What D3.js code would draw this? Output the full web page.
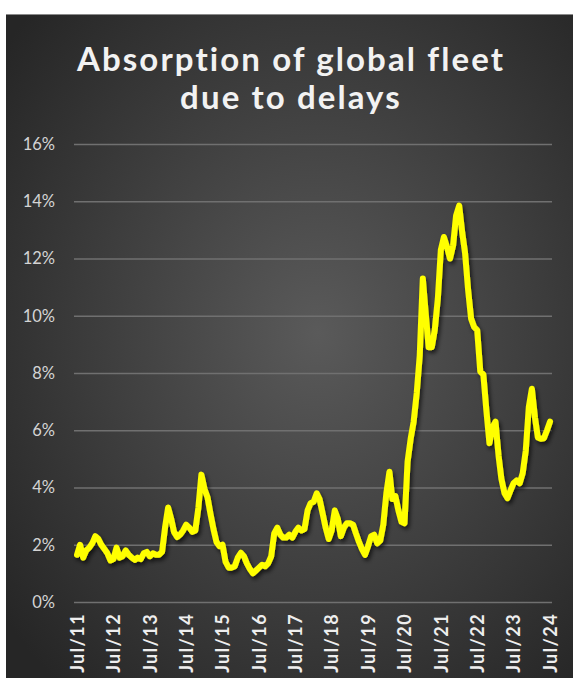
<!DOCTYPE html>
<html>
<head>
<meta charset="utf-8">
<script src="https://cdn.jsdelivr.net/npm/d3@7"></script>
<style>
  html, body { margin: 0; padding: 0; background: #ffffff; }
  svg { display: block; }
</style>
</head>
<body>
<div id="chart"></div>
<script>
// Share of the global container fleet absorbed by delays, monthly, Jul 2011 – Jul 2024
const startMonth = new Date(2011, 6, 1);
const absorption = [
  1.65, 2.0, 1.55, 1.8, 1.9, 2.05, 2.3, 2.2, 2.0, 1.85, 1.7, 1.45,
  1.5, 1.9, 1.55, 1.6, 1.8, 1.65, 1.55, 1.47, 1.55, 1.5, 1.7, 1.75,
  1.6, 1.7, 1.65, 1.65, 1.75, 2.6, 3.3, 2.9, 2.45, 2.27, 2.35, 2.5,
  2.7, 2.6, 2.45, 2.5, 3.3, 4.45, 3.95, 3.65, 3.1, 2.55, 2.1, 1.95,
  2.0, 1.4, 1.2, 1.2, 1.25, 1.55, 1.72, 1.6, 1.35, 1.15, 1.0, 1.1,
  1.2, 1.3, 1.25, 1.35, 1.6, 2.4, 2.6, 2.35, 2.25, 2.25, 2.35, 2.25,
  2.45, 2.6, 2.5, 2.55, 3.2, 3.45, 3.5, 3.8, 3.6, 3.1, 2.6, 2.2,
  2.5, 3.2, 2.9, 2.3, 2.6, 2.75, 2.75, 2.7, 2.4, 2.1, 1.85, 1.65,
  1.95, 2.3, 2.35, 2.05, 2.15, 2.7, 3.8, 4.55, 3.6, 3.7, 3.2, 2.8,
  2.75, 4.9, 5.7, 6.3, 7.3, 8.6, 11.3, 10.0, 8.9, 8.9, 9.5, 10.6,
  12.3, 12.75, 12.4, 12.0, 12.45, 13.5, 13.85, 12.9, 12.2, 10.9, 9.9, 9.6,
  9.5, 8.05, 7.95, 6.7, 5.55, 6.1, 6.3, 5.1, 4.3, 3.8, 3.63, 3.9,
  4.15, 4.25, 4.15, 4.5, 5.3, 6.8, 7.45, 6.45, 5.75, 5.7, 5.72, 6.0,
  6.3
];
const yTicks = [0, 2, 4, 6, 8, 10, 12, 14, 16];
const titleLines = ["Absorption of global fleet", "due to delays"];

const months = absorption.map((v, i) => d3.timeMonth.offset(startMonth, i));
const series = absorption.map((v, i) => ({ date: months[i], value: v }));
const xTicks = months.filter((d, i) => i % 12 === 0);

const W = 573, H = 678;
const panel = { x: 6, y: 14 };
const plot = { left: 74, right: 552, top: 144, bottom: 602 };
const font = "Lato, 'Open Sans', sans-serif";

const svg = d3.select("#chart").append("svg")
  .attr("width", W).attr("height", H);

const defs = svg.append("defs");
const grad = defs.append("radialGradient")
  .attr("id", "bg").attr("cx", "55%").attr("cy", "48%").attr("r", "70%");
grad.append("stop").attr("offset", "0%").attr("stop-color", "#5a5a5a");
grad.append("stop").attr("offset", "100%").attr("stop-color", "#262626");

const shadow = defs.append("filter").attr("id", "shadow")
  .attr("x", "-10%").attr("y", "-10%").attr("width", "120%").attr("height", "120%");
shadow.append("feDropShadow")
  .attr("dx", 2).attr("dy", 3).attr("stdDeviation", 2)
  .attr("flood-color", "#000").attr("flood-opacity", 0.65);

// background panel
svg.append("rect")
  .attr("x", panel.x).attr("y", panel.y)
  .attr("width", W - panel.x).attr("height", H - panel.y)
  .attr("fill", "url(#bg)");
svg.append("line")
  .attr("x1", panel.x).attr("x2", W).attr("y1", panel.y + 0.5).attr("y2", panel.y + 0.5)
  .attr("stroke", "#8a8a8a").attr("stroke-width", 1);

const x = d3.scaleTime()
  .domain([months[0], months[months.length - 1]])
  .range([77, 550]);
const y = d3.scaleLinear().domain([0, 16]).range([plot.bottom, plot.top]);

// title
const title = svg.append("text")
  .attr("text-anchor", "middle")
  .attr("fill", "#f2f2f2")
  .attr("font-family", font)
  .attr("font-weight", 700)
  .attr("font-size", 33)
  .attr("letter-spacing", 2.1);
title.selectAll("tspan").data(titleLines).join("tspan")
  .attr("x", 291)
  .attr("y", (d, i) => 71 + i * 38)
  .text(d => d);

// gridlines and y labels
const yAxis = d3.axisLeft(y)
  .tickValues(yTicks)
  .tickSize(-(plot.right - plot.left))
  .tickPadding(19)
  .tickFormat(d => d + "%");
svg.append("g")
  .attr("transform", `translate(${plot.left},0)`)
  .call(yAxis)
  .call(g => g.select(".domain").remove())
  .call(g => g.selectAll(".tick line").attr("stroke", "#707070").attr("stroke-width", 1.3))
  .call(g => g.selectAll(".tick text")
    .attr("fill", "#d4d4d4")
    .attr("font-family", font)
    .attr("font-size", 16.5));

// x labels, rotated
const xAxis = d3.axisBottom(x)
  .tickValues(xTicks)
  .tickSize(0)
  .tickPadding(0)
  .tickFormat(d3.timeFormat("%b/%y"));
svg.append("g")
  .attr("transform", `translate(0,${plot.bottom})`)
  .call(xAxis)
  .call(g => g.select(".domain").remove())
  .call(g => g.selectAll(".tick text")
    .attr("fill", "#eeeeee")
    .attr("font-family", font)
    .attr("font-weight", 700)
    .attr("font-size", 18)
    .attr("letter-spacing", 1.4)
    .attr("text-anchor", "end")
    .attr("dy", "0.35em")
    .attr("transform", "translate(0,11) rotate(-90)")
    .attr("x", 0).attr("y", 0));

// the line
const line = d3.line()
  .x(d => x(d.date))
  .y(d => y(d.value))
  .curve(d3.curveLinear);
svg.append("path")
  .datum(series)
  .attr("d", line)
  .attr("fill", "none")
  .attr("stroke", "#ffff00")
  .attr("stroke-width", 6)
  .attr("stroke-linejoin", "round")
  .attr("stroke-linecap", "round")
  .attr("filter", "url(#shadow)");
</script>
</body>
</html>
